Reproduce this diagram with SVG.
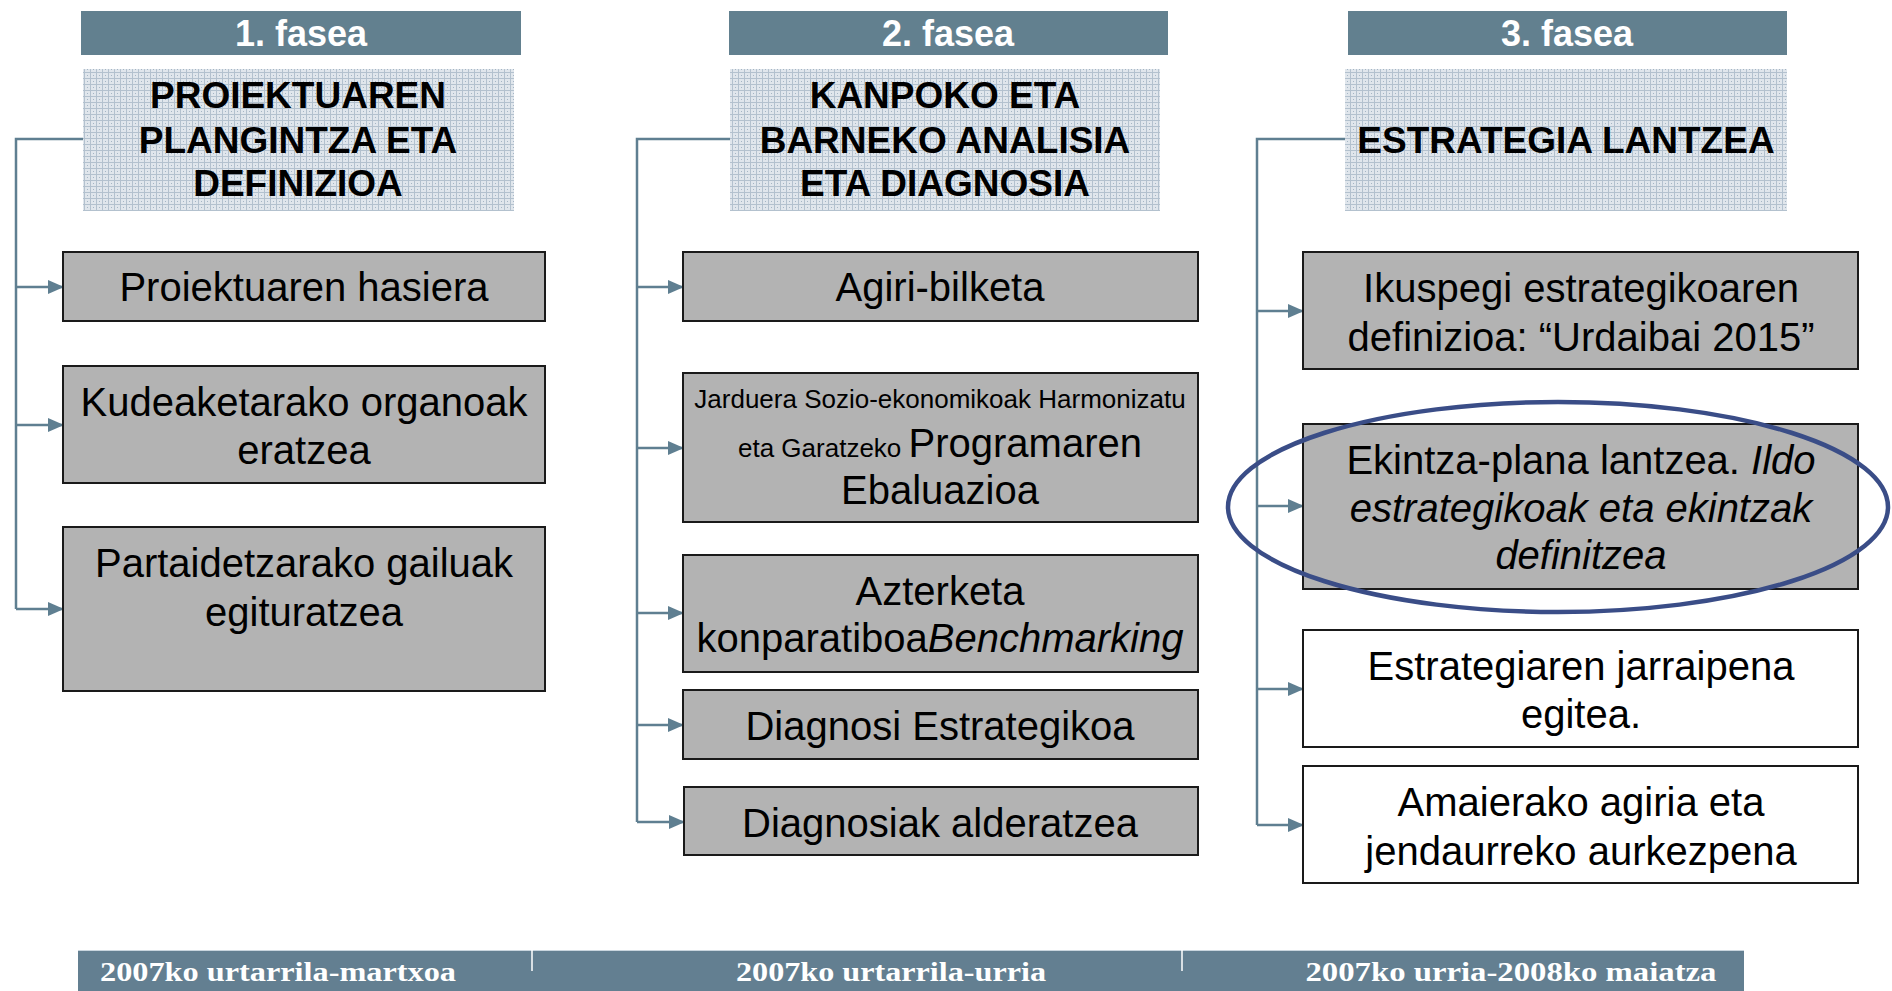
<svg xmlns="http://www.w3.org/2000/svg" width="1892" height="991" viewBox="0 0 1892 991">
<defs>
<pattern id="grid" width="6" height="6" patternUnits="userSpaceOnUse">
<rect width="6" height="6" fill="#e0e6ec"/>
<rect x="0" y="0" width="6" height="1" fill="#b3c1ce"/>
<rect x="0" y="0" width="1" height="6" fill="#b3c1ce"/>
<rect x="3" y="3" width="1" height="1" fill="#a5b5c4"/>
</pattern>
<marker id="arr" markerWidth="16" markerHeight="14" refX="15" refY="7" orient="auto" markerUnits="userSpaceOnUse">
<path d="M0,0 L16,7 L0,14 Z" fill="#5f7f91"/>
</marker>
<style>
.hdr{fill:#62808f}
.hdrt{font-family:"Liberation Sans",Arial,sans-serif;font-weight:bold;font-size:36px;fill:#fff;text-anchor:middle}
.ttl{font-family:"Liberation Sans",Arial,sans-serif;font-weight:bold;font-size:37px;fill:#000;text-anchor:middle}
.box{fill:#b3b3b3;stroke:#1a1a1a;stroke-width:2}
.wbox{fill:#fff;stroke:#1a1a1a;stroke-width:2}
.t{font-family:"Liberation Sans",Arial,sans-serif;font-size:40px;fill:#000;text-anchor:middle}
.sm{font-size:26px}
.con{fill:none;stroke:#5f7f91;stroke-width:2.5}
.bar{fill:#637f91}
.bt{font-family:"Liberation Serif","Times New Roman",serif;font-weight:bold;font-size:27px;fill:#fff;text-anchor:middle}
</style>
</defs>
<rect width="1892" height="991" fill="#fff"/>

<g id="connectors">
<path class="con" d="M83,139 H16 V609"/>
<path class="con" d="M16,287 H63" marker-end="url(#arr)"/>
<path class="con" d="M16,425 H63" marker-end="url(#arr)"/>
<path class="con" d="M16,609 H63" marker-end="url(#arr)"/>
<path class="con" d="M730,139 H637 V822"/>
<path class="con" d="M637,287 H683" marker-end="url(#arr)"/>
<path class="con" d="M637,448 H683" marker-end="url(#arr)"/>
<path class="con" d="M637,613 H683" marker-end="url(#arr)"/>
<path class="con" d="M637,725 H683" marker-end="url(#arr)"/>
<path class="con" d="M637,822 H684" marker-end="url(#arr)"/>
<path class="con" d="M1345,139 H1257 V825"/>
<path class="con" d="M1257,311 H1303" marker-end="url(#arr)"/>
<path class="con" d="M1257,506 H1303" marker-end="url(#arr)"/>
<path class="con" d="M1257,689 H1303" marker-end="url(#arr)"/>
<path class="con" d="M1257,825 H1303" marker-end="url(#arr)"/>
</g>

<g id="phase1-header">
<rect class="hdr" x="81" y="11" width="440" height="44"/>
<text class="hdrt" x="301" y="46">1. fasea</text>
</g>
<g id="phase1-title">
<rect x="83" y="69" width="431" height="142" fill="url(#grid)"/>
<text class="ttl" x="298" y="108">PROIEKTUAREN</text>
<text class="ttl" x="298" y="153">PLANGINTZA ETA</text>
<text class="ttl" x="298" y="196">DEFINIZIOA</text>
</g>
<g id="p1-hasiera">
<rect class="box" x="63" y="252" width="482" height="69"/>
<text class="t" x="304" y="301">Proiektuaren hasiera</text>
</g>
<g id="p1-kudeaketa">
<rect class="box" x="63" y="366" width="482" height="117"/>
<text class="t" x="304" y="416">Kudeaketarako organoak</text>
<text class="t" x="304" y="464">eratzea</text>
</g>
<g id="p1-partaidetza">
<rect class="box" x="63" y="527" width="482" height="164"/>
<text class="t" x="304" y="577">Partaidetzarako gailuak</text>
<text class="t" x="304" y="626">egituratzea</text>
</g>

<g id="phase2-header">
<rect class="hdr" x="729" y="11" width="439" height="44"/>
<text class="hdrt" x="948" y="46">2. fasea</text>
</g>
<g id="phase2-title">
<rect x="730" y="69" width="430" height="142" fill="url(#grid)"/>
<text class="ttl" x="945" y="108">KANPOKO ETA</text>
<text class="ttl" x="945" y="153">BARNEKO ANALISIA</text>
<text class="ttl" x="945" y="196">ETA DIAGNOSIA</text>
</g>
<g id="p2-agiri">
<rect class="box" x="683" y="252" width="515" height="69"/>
<text class="t" x="940" y="301">Agiri-bilketa</text>
</g>
<g id="p2-jarduera">
<rect class="box" x="683" y="373" width="515" height="149"/>
<text class="t sm" x="940" y="408">Jarduera Sozio-ekonomikoak Harmonizatu</text>
<text class="t" x="940" y="457"><tspan class="sm">eta Garatzeko </tspan>Programaren</text>
<text class="t" x="940" y="504">Ebaluazioa</text>
</g>
<g id="p2-azterketa">
<rect class="box" x="683" y="555" width="515" height="117"/>
<text class="t" x="940" y="605">Azterketa</text>
<text class="t" x="940" y="652">konparatiboa<tspan font-style="italic">Benchmarking</tspan></text>
</g>
<g id="p2-diagnosi">
<rect class="box" x="683" y="690" width="515" height="69"/>
<text class="t" x="940" y="740">Diagnosi Estrategikoa</text>
</g>
<g id="p2-diagnosiak">
<rect class="box" x="684" y="787" width="514" height="68"/>
<text class="t" x="940" y="837">Diagnosiak alderatzea</text>
</g>

<g id="phase3-header">
<rect class="hdr" x="1348" y="11" width="439" height="44"/>
<text class="hdrt" x="1567" y="46">3. fasea</text>
</g>
<g id="phase3-title">
<rect x="1345" y="69" width="442" height="142" fill="url(#grid)"/>
<text class="ttl" x="1566" y="153">ESTRATEGIA LANTZEA</text>
</g>
<g id="p3-ikuspegi">
<rect class="box" x="1303" y="252" width="555" height="117"/>
<text class="t" x="1581" y="302">Ikuspegi estrategikoaren</text>
<text class="t" x="1581" y="351">definizioa: “Urdaibai 2015”</text>
</g>
<g id="p3-ekintza">
<rect class="box" x="1303" y="424" width="555" height="165"/>
<text class="t" x="1581" y="474">Ekintza-plana lantzea. <tspan font-style="italic">Ildo</tspan></text>
<text class="t" x="1581" y="522" font-style="italic">estrategikoak eta ekintzak</text>
<text class="t" x="1581" y="569" font-style="italic">definitzea</text>
</g>
<g id="p3-jarraipena">
<rect class="wbox" x="1303" y="630" width="555" height="117"/>
<text class="t" x="1581" y="680">Estrategiaren jarraipena</text>
<text class="t" x="1581" y="728">egitea.</text>
</g>
<g id="p3-amaiera">
<rect class="wbox" x="1303" y="766" width="555" height="117"/>
<text class="t" x="1581" y="816">Amaierako agiria eta</text>
<text class="t" x="1581" y="865">jendaurreko aurkezpena</text>
</g>
<g id="highlight">
<ellipse cx="1558" cy="507" rx="330" ry="105" fill="none" stroke="#3a4d87" stroke-width="4.5"/>
</g>

<g id="timeline">
<rect class="bar" x="78" y="950" width="1666" height="41"/>
<line x1="78" y1="950.5" x2="1744" y2="950.5" stroke="#c9d5de" stroke-width="1"/>
<line x1="532" y1="950" x2="532" y2="971" stroke="#fff" stroke-width="1.5"/>
<line x1="1182" y1="950" x2="1182" y2="971" stroke="#fff" stroke-width="1.5"/>
<text class="bt" x="278" y="981" textLength="356" lengthAdjust="spacingAndGlyphs">2007ko urtarrila-martxoa</text>
<text class="bt" x="891" y="981" textLength="310" lengthAdjust="spacingAndGlyphs">2007ko urtarrila-urria</text>
<text class="bt" x="1511" y="981" textLength="411" lengthAdjust="spacingAndGlyphs">2007ko urria-2008ko maiatza</text>
</g>
</svg>
